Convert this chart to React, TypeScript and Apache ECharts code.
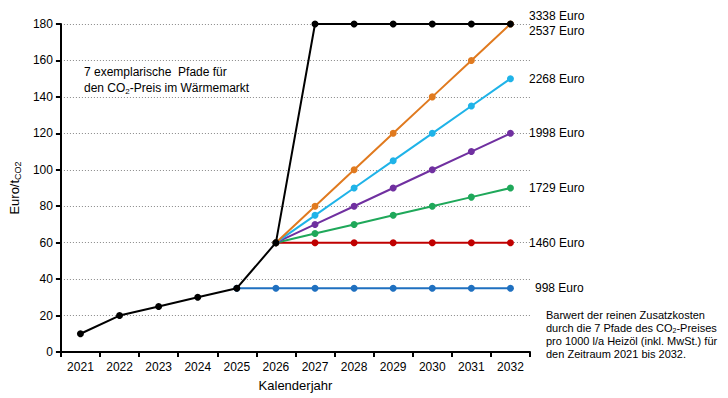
import React, { useEffect, useRef } from "react";
import * as echarts from "echarts";

const years = ["2021", "2022", "2023", "2024", "2025", "2026", "2027", "2028", "2029", "2030", "2031", "2032"];
const pathBlack = [10, 20, 25, 30, 35, 60, 180, 180, 180, 180, 180, 180];
const pathBlue = [null, null, null, null, 35, 35, 35, 35, 35, 35, 35, 35];
const pathRed = [null, null, null, null, null, 60, 60, 60, 60, 60, 60, 60];
const pathGreen = [null, null, null, null, null, 60, 65, 70, 75, 80, 85, 90];
const pathPurple = [null, null, null, null, null, 60, 70, 80, 90, 100, 110, 120];
const pathCyan = [null, null, null, null, null, 60, 75, 90, 105, 120, 135, 150];
const pathOrange = [null, null, null, null, null, 60, 80, 100, 120, 140, 160, 180];
const endLabels = {
  blue: "998 Euro",
  red: "1460 Euro",
  green: "1729 Euro",
  purple: "1998 Euro",
  cyan: "2268 Euro",
  orange: "2537 Euro",
  black: "3338 Euro",
};
const yTicks = { min: 0, max: 180, interval: 20 };

const FONT = "Liberation Sans, Arial, sans-serif";

function withEndLabel(values: (number | null)[], text: string, offset: number[], distance: number) {
  return values.map((v, i) =>
    i === values.length - 1
      ? {
          value: v,
          label: {
            show: true,
            position: "right",
            distance,
            offset,
            formatter: text,
            color: "#000",
            fontSize: 12,
            fontFamily: FONT,
          },
        }
      : v
  );
}

function mkSeries(name: string, color: string, data: any[], z: number, width = 2) {
  return {
    name,
    type: "line",
    data,
    z,
    symbol: "circle",
    symbolSize: 7,
    showSymbol: true,
    lineStyle: { color, width },
    itemStyle: { color },
    label: { show: false },
    emphasis: { disabled: true },
  };
}

export default function App() {
  const ref = useRef<HTMLDivElement>(null);
  useEffect(() => {
    const chart = echarts.init(ref.current!, null, { renderer: "svg" });
    chart.setOption({
      animation: false,
      backgroundColor: "#fff",
      textStyle: { fontFamily: FONT },
      grid: { left: 56, right: 198, top: 24, bottom: 46 },
      xAxis: {
        type: "category",
        data: years,
        boundaryGap: true,
        axisLine: { lineStyle: { color: "#000", width: 2 } },
        axisTick: { show: true, inside: false, length: 5, lineStyle: { color: "#000", width: 2 } },
        axisLabel: { color: "#000", fontSize: 12, fontFamily: FONT, margin: 9 },
        splitLine: { show: false },
        name: "Kalenderjahr",
        nameLocation: "middle",
        nameGap: 27,
        nameTextStyle: { color: "#000", fontSize: 13, fontFamily: FONT },
      },
      yAxis: {
        type: "value",
        min: yTicks.min,
        max: yTicks.max,
        interval: yTicks.interval,
        axisLine: { show: true, lineStyle: { color: "#000", width: 2 } },
        axisTick: { show: true, length: 5, lineStyle: { color: "#000", width: 2 } },
        axisLabel: { color: "#000", fontSize: 12, fontFamily: FONT, margin: 8 },
        splitLine: { show: true, lineStyle: { color: "#888", type: [1, 2], width: 1 } },
        name: "Euro/t{sub|CO2}",
        nameLocation: "middle",
        nameGap: 35,
        nameRotate: 90,
        nameTextStyle: {
          color: "#000",
          fontSize: 13,
          fontFamily: FONT,
          rich: { sub: { fontSize: 9, fontFamily: FONT, color: "#000", padding: [6, 0, 0, 0] } },
        },
      },
      series: [
        mkSeries("blue", "#1F70C0", withEndLabel(pathBlue, endLabels.blue, [0, 0], 21), 2),
        mkSeries("red", "#C00000", withEndLabel(pathRed, endLabels.red, [0, 0], 15), 3),
        mkSeries("green", "#1FA85A", withEndLabel(pathGreen, endLabels.green, [0, 0], 15), 4),
        mkSeries("purple", "#7030A0", withEndLabel(pathPurple, endLabels.purple, [0, 0], 15), 5),
        mkSeries("cyan", "#1FB3E8", withEndLabel(pathCyan, endLabels.cyan, [0, 0], 15), 6),
        mkSeries("orange", "#E07A1F", withEndLabel(pathOrange, endLabels.orange, [0, 7], 15), 7),
        mkSeries("black", "#000000", withEndLabel(pathBlack, endLabels.black, [0, -8], 15), 8),
      ],
      graphic: [
        {
          type: "text",
          left: 84,
          top: 64,
          style: {
            text: "7 exemplarische  Pfade für\nden CO{sub|2}-Preis im Wärmemarkt",
            fill: "#000",
            fontSize: 12,
            fontFamily: FONT,
            lineHeight: 16,
            rich: {
              sub: { fontSize: 8, fontFamily: FONT, fill: "#000", padding: [6, 0, 0, 0], lineHeight: 16 },
            },
          },
          z: 20,
        },
        {
          type: "text",
          left: 546,
          top: 308,
          style: {
            text:
              "Barwert der reinen Zusatzkosten\ndurch die 7 Pfade des CO{sub|2}-Preises\npro 1000 l/a Heizöl (inkl. MwSt.) für\nden Zeitraum 2021 bis 2032.",
            fill: "#000",
            fontSize: 11,
            fontFamily: FONT,
            lineHeight: 13,
            rich: {
              sub: { fontSize: 7, fontFamily: FONT, fill: "#000", padding: [5, 0, 0, 0], lineHeight: 13 },
            },
          },
          z: 20,
        },
      ],
    });
    return () => chart.dispose();
  }, []);
  return <div ref={ref} style={{ width: 728, height: 398, position: "absolute", left: 0, top: 0 }} />;
}
